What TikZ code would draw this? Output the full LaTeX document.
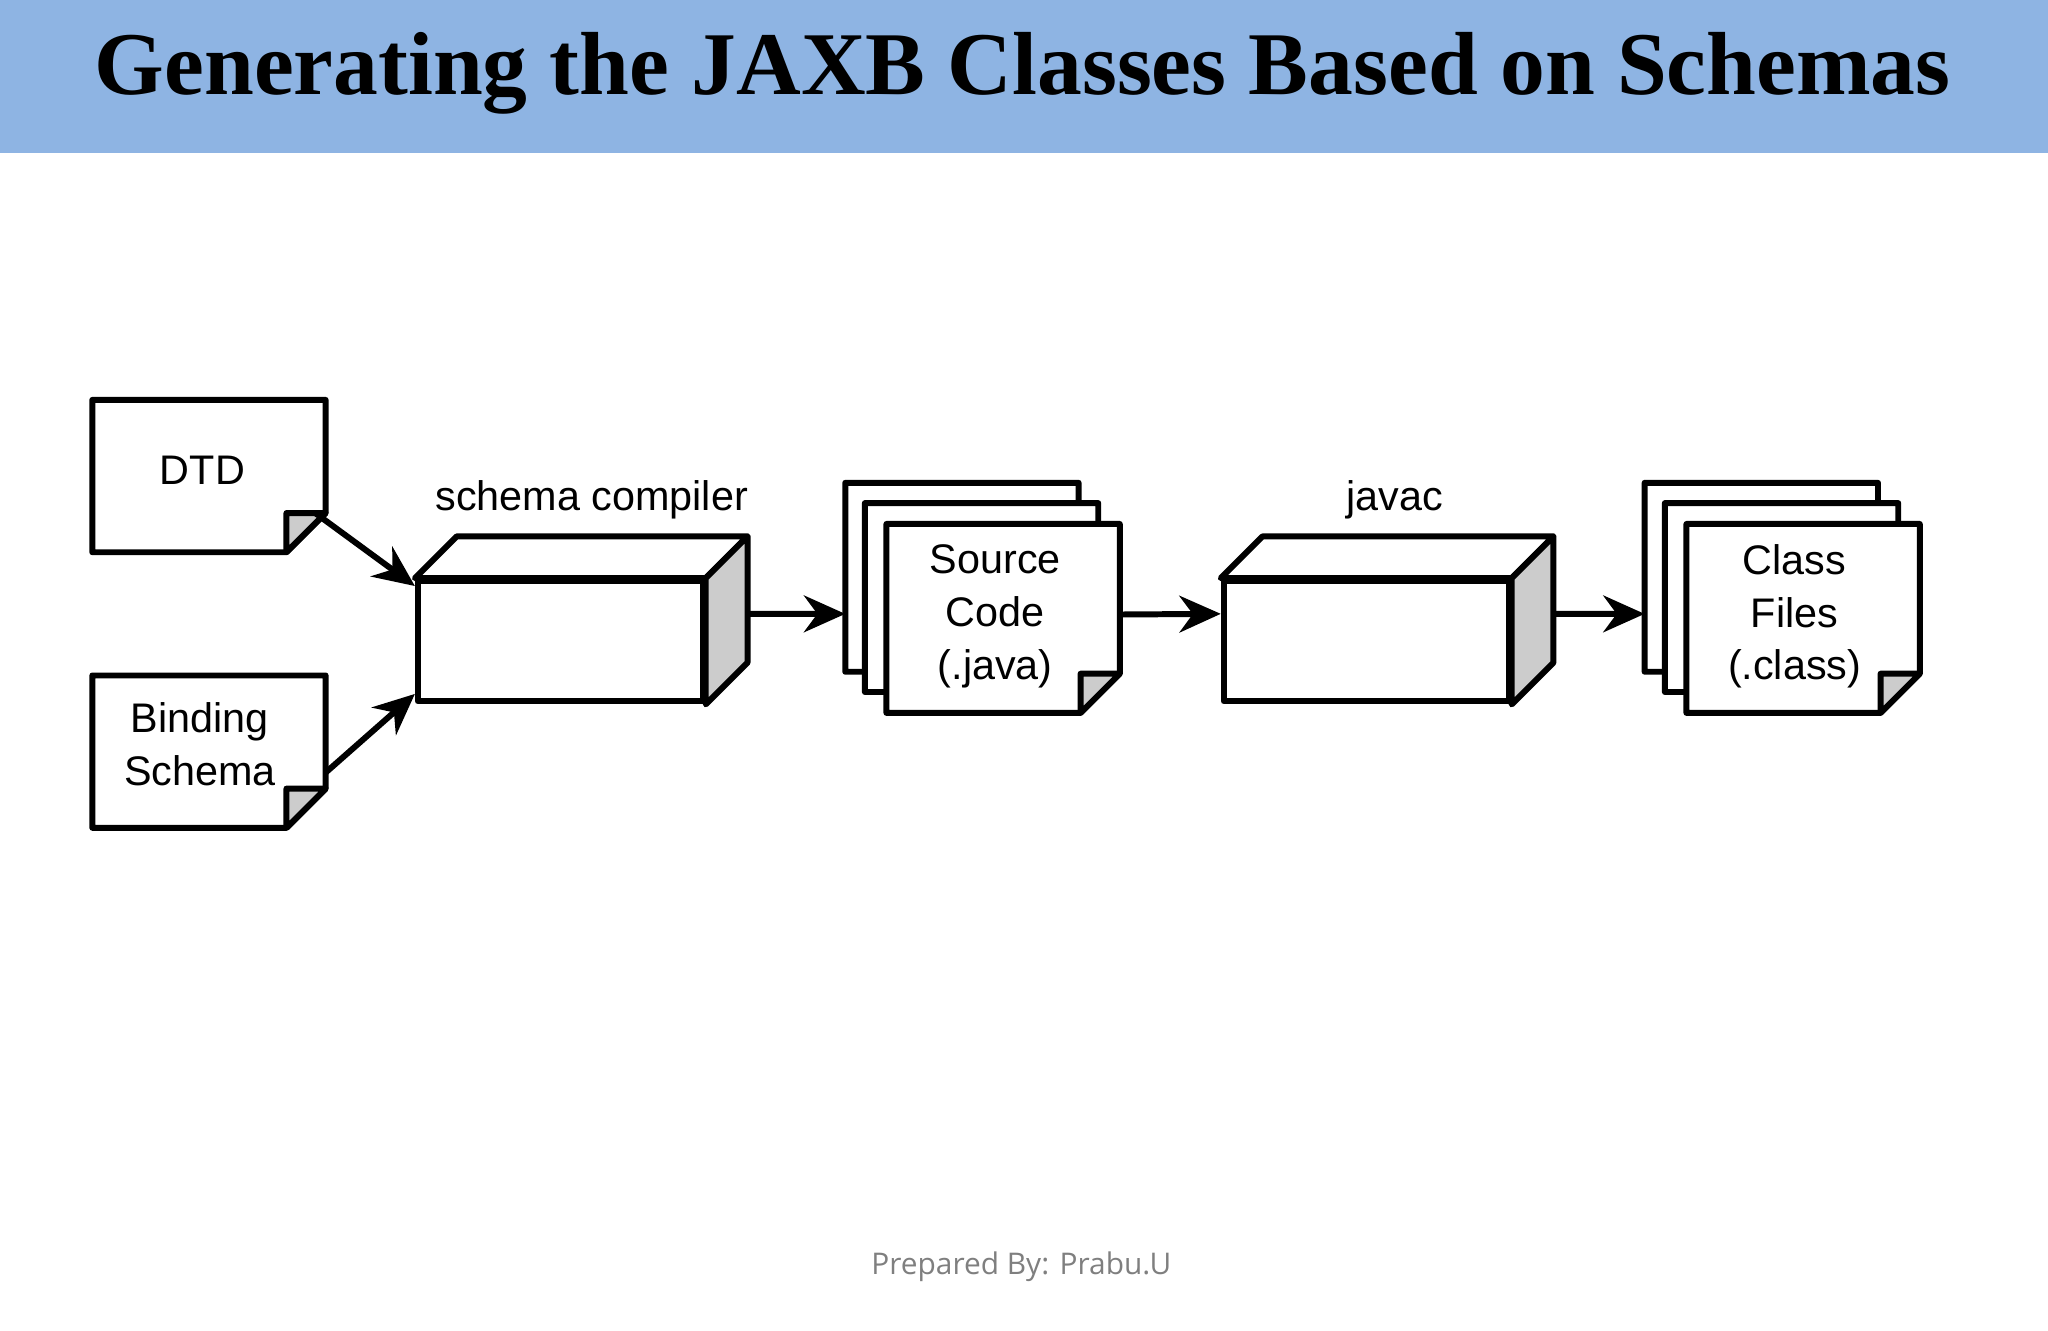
\documentclass[tikz,border=0pt]{standalone}
\usepackage{fontspec}
\setmainfont{Liberation Serif}
\newfontfamily\diagfont{Liberation Sans}
\newfontfamily\footfont{Open Sans}
\usetikzlibrary{arrows.meta}
\definecolor{titleblue}{HTML}{8EB4E3}
\definecolor{sidegrey}{HTML}{CCCCCC}
\definecolor{footgrey}{HTML}{7F7F7F}
% folded sheet drawn round a node
\newcommand\sheet[1]{%
  \filldraw[fill=white] (#1.north west)--(#1.north east)--([yshift=.3cm]#1.south east)
    --([xshift=-.3cm]#1.south east)--(#1.south west)--cycle;
  \filldraw[fill=sidegrey] ([yshift=.3cm]#1.south east)--([xshift=-.3cm,yshift=.3cm]#1.south east)
    --([xshift=-.3cm]#1.south east)--cycle;}
% box with depth drawn round a node
\newcommand\block[1]{%
  \filldraw[fill=white] (#1.north west)--++(32,-32)--([shift={(32,-32)}]#1.north east)--(#1.north east)--cycle;
  \filldraw[fill=sidegrey] (#1.north east)--++(32,-32)--([shift={(32,-32)}]#1.south east)--(#1.south east)--cycle;}

\begin{document}
\begin{tikzpicture}[x=0.01cm,y=-0.01cm,line width=1.3pt,line join=round,
  doc/.style={minimum width=1.74cm,minimum height=1.12cm,inner sep=0pt,align=center,font=\diagfont\fontsize{9}{11.5}\selectfont},
  stackdoc/.style={doc,minimum height=1.4cm},
  cube/.style={draw,fill=white,minimum width=2.18cm,minimum height=.92cm,inner sep=0pt},
  lbl/.style={font=\diagfont\fontsize{9}{11}\selectfont},
  flow/.style={-{Stealth[length=9pt,width=8pt]}}]
\useasboundingbox (0,0) rectangle (1568,1019);
\fill[titleblue] (0,0) rectangle (1568,117);
\node (title) at (783,56) {\resizebox{14.2cm}{!}{\bfseries Generating the JAXB Classes Based on Schemas}};

% inputs
\node[doc] (dtd) at (160,364.5) {};
\sheet{dtd}
\node[doc] at (155,360) {DTD};
\node[doc] (bind) at (160,575.5) {};
\sheet{bind}
\node[doc] at (153,570) {Binding\\Schema};

% schema compiler
\node[cube] (comp) at (429,491) {};
\block{comp}
\node[lbl] (complbl) at (453,383) {schema compiler};

% source files
\node[stackdoc] (src3) at (736.5,442) {};
\sheet{src3}
\node[stackdoc] (src2) at (751.5,457.5) {};
\sheet{src2}
\node[stackdoc] (src1) at (768,473.5) {};
\sheet{src1}
\node[doc] at (762,472) {Source\\Code\\(.java)};

% javac
\node[cube] (javac) at (1046,491) {};
\block{javac}
\node[lbl] (javaclbl) at (1068,383) {javac};

% class files
\node[stackdoc] (cls3) at (1348.5,442) {};
\sheet{cls3}
\node[stackdoc] (cls2) at (1364,457.5) {};
\sheet{cls2}
\node[stackdoc] (cls1) at (1380.5,473.5) {};
\sheet{cls1}
\node[doc] at (1374,472) {Class\\Files\\(.class)};

\draw[flow] ([xshift=-.08cm,yshift=.3cm]dtd.south east)--([yshift=-.06cm]comp.north west);
\draw[flow] ([yshift=-.16cm]bind.east)--([yshift=.08cm]comp.south west);
\draw[flow] ([xshift=.32cm,yshift=.21cm]comp.east)--([yshift=-.28cm]src3.west);
\draw[flow] ([yshift=.03cm]src1.east)--([yshift=.21cm]javac.west);
\draw[flow] ([xshift=.32cm,yshift=.21cm]javac.east)--([yshift=-.28cm]cls3.west);

\node[font=\footfont\fontsize{6.5}{8}\selectfont,text=footgrey] (foot) at (782,970) {Prepared By: Prabu.U};
\end{tikzpicture}
\end{document}
